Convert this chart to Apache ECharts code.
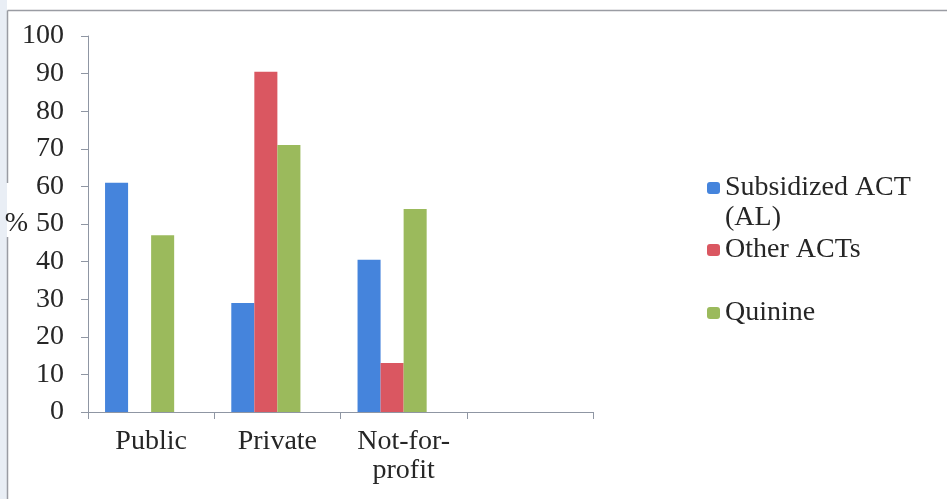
<!DOCTYPE html>
<html>
<head>
<meta charset="utf-8">
<title>Antimalarial availability by sector</title>
<script src="https://cdn.jsdelivr.net/npm/echarts@6/dist/echarts.min.js"></script>
<style>
  html, body { margin: 0; padding: 0; background: #ffffff; }
  #chart { width: 947px; height: 499px; }
</style>
</head>
<body>
<div id="chart"></div>
<script>
// Outlet sectors (the last slot is left empty)
const sectors = ['Public', 'Private', 'Not-for-\nprofit', ''];

// Share of outlets stocking each antimalarial, %
const subsidizedACT = [61, 29, 40.5];
const otherACTs = [0, 90.5, 13];
const quinine = [47, 71, 54];
// fourth slot in each group is reserved but holds no values
const reservedSlot = [];

const seriesNames = ['Subsidized ACT (AL)', 'Other ACTs', 'Quinine'];
const seriesColors = ['#4584dc', '#da5761', '#9bba5c'];

const yTicks = { min: 0, max: 100, interval: 10 };

const serif = '"Liberation Serif", "DejaVu Serif", serif';
const ink = '#262626';
const axisGrey = '#8f96a3';

const chart = echarts.init(document.getElementById('chart'), null, { renderer: 'canvas' });

function legendFor(name, top, formatter) {
  const lg = {
    data: [name],
    left: 707,
    top: top,
    padding: 0,
    orient: 'vertical',
    itemWidth: 13,
    itemHeight: 12,
    itemGap: 0,
    selectedMode: false,
    textStyle: {
      fontFamily: serif,
      fontSize: 28,
      color: ink,
      lineHeight: 30
    }
  };
  if (formatter) lg.formatter = formatter;
  return lg;
}

const barCommon = { type: 'bar', barGap: '0%', barCategoryGap: '27%' };

chart.setOption({
  backgroundColor: '#ffffff',
  animation: false,
  grid: { left: 88, right: 354, top: 36, bottom: 87, containLabel: false, outerBoundsMode: 'none' },
  legend: [
    // blank leading line keeps the marker level with the first line of text
    legendFor(seriesNames[0], 143, () => '\nSubsidized ACT\n(AL)'),
    legendFor(seriesNames[1], 235),
    legendFor(seriesNames[2], 298)
  ],
  xAxis: {
    type: 'category',
    data: sectors,
    axisLine: { lineStyle: { color: axisGrey, width: 1 } },
    axisTick: { show: true, length: 7, lineStyle: { color: axisGrey } },
    axisLabel: {
      interval: 0,
      fontFamily: serif,
      fontSize: 28,
      color: ink,
      lineHeight: 29,
      margin: 15
    }
  },
  yAxis: {
    type: 'value',
    min: yTicks.min,
    max: yTicks.max,
    interval: yTicks.interval,
    name: '%',
    nameLocation: 'middle',
    nameRotate: 0,
    nameGap: 60,
    nameMoveOverlap: false,
    nameTextStyle: { fontFamily: serif, fontSize: 28, color: ink },
    axisLine: { show: true, lineStyle: { color: axisGrey, width: 1 } },
    axisTick: { show: true, length: 7, lineStyle: { color: axisGrey } },
    splitLine: { show: false },
    axisLabel: {
      fontFamily: serif,
      fontSize: 28,
      color: ink,
      margin: 24
    }
  },
  series: [
    Object.assign({ name: seriesNames[0], data: subsidizedACT, itemStyle: { color: seriesColors[0] } }, barCommon),
    Object.assign({ name: seriesNames[1], data: otherACTs, itemStyle: { color: seriesColors[1] } }, barCommon),
    Object.assign({ name: seriesNames[2], data: quinine, itemStyle: { color: seriesColors[2] } }, barCommon),
    Object.assign({ name: 'reserved', data: reservedSlot, itemStyle: { color: 'transparent' } }, barCommon)
  ],
  graphic: [
    // page frame: pale strip at the left edge, thin rule along top and left
    { type: 'rect', left: 0, top: 0, z: -10, shape: { width: 7, height: 499 }, style: { fill: '#e9eef5' }, silent: true },
    { type: 'line', shape: { x1: 7.5, y1: 10.5, x2: 947, y2: 10.5 }, style: { stroke: '#9a9ca3', lineWidth: 1.5 }, silent: true },
    { type: 'line', shape: { x1: 7.5, y1: 10.5, x2: 7.5, y2: 183 }, style: { stroke: '#9a9ca3', lineWidth: 1.5 }, silent: true },
    { type: 'line', shape: { x1: 7.5, y1: 237, x2: 7.5, y2: 499 }, style: { stroke: '#9a9ca3', lineWidth: 1.5 }, silent: true }
  ]
});
</script>
</body>
</html>
